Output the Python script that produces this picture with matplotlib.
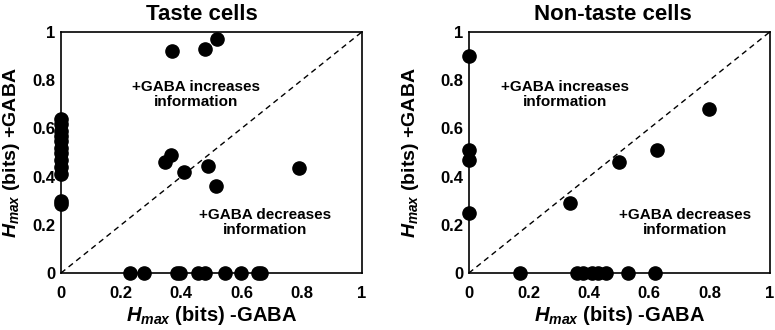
import matplotlib.pyplot as plt
import numpy as np

plt.rcParams['font.family'] = ['Liberation Sans', 'DejaVu Sans']
plt.rcParams['font.weight'] = 'bold'
plt.rcParams['axes.labelweight'] = 'bold'
plt.rcParams['mathtext.fontset'] = 'custom'
plt.rcParams['mathtext.rm'] = 'Liberation Sans:bold'
plt.rcParams['mathtext.it'] = 'Liberation Sans:italic:bold'
plt.rcParams['mathtext.bf'] = 'Liberation Sans:bold'

# taste cells
taste_x = [0.37, 0.48, 0.52, 0.345, 0.365, 0.41, 0.49, 0.515, 0.79,
           0, 0, 0, 0, 0, 0, 0, 0, 0, 0, 0, 0,
           0.23, 0.275, 0.385, 0.395, 0.455, 0.48, 0.545, 0.60, 0.655, 0.665]
taste_y = [0.92, 0.93, 0.97, 0.46, 0.49, 0.42, 0.445, 0.36, 0.435,
           0.64, 0.62, 0.59, 0.57, 0.55, 0.52, 0.50, 0.47, 0.44, 0.41, 0.30, 0.285,
           0, 0, 0, 0, 0, 0, 0, 0, 0, 0]

# non-taste cells
nontaste_x = [0, 0, 0, 0, 0.335, 0.50, 0.625, 0.80,
              0.17, 0.36, 0.38, 0.41, 0.43, 0.455, 0.53, 0.62]
nontaste_y = [0.90, 0.51, 0.47, 0.25, 0.29, 0.46, 0.51, 0.68,
              0, 0, 0, 0, 0, 0, 0, 0]

ticks = [0, 0.2, 0.4, 0.6, 0.8, 1]
tick_labels = ['0', '0.2', '0.4', '0.6', '0.8', '1']

fig = plt.figure(figsize=(7.75, 3.3), dpi=100)
ax1 = fig.add_axes([0.0787, 0.1727, 0.388, 0.730])
ax2 = fig.add_axes([0.605, 0.1727, 0.388, 0.730])

panels = [(ax1, taste_x, taste_y, 'Taste cells', (0.45, 0.74), (0.68, 0.21), -0.13, 0.47),
          (ax2, nontaste_x, nontaste_y, 'Non-taste cells', (0.32, 0.74), (0.72, 0.21), -0.16, 0.48)]

for ax, x, y, title, inc, dec, ylab_x, title_x in panels:
    ax.plot([0, 1], [0, 1], 'k--', lw=1, dashes=(4, 3))
    ax.plot(x, y, 'o', color='black', ms=9.5, clip_on=False, zorder=3)
    ax.set_xlim(0, 1)
    ax.set_ylim(0, 1)
    ax.set_xticks(ticks)
    ax.set_xticklabels(tick_labels, fontweight='bold', fontsize=12)
    ax.set_yticks(ticks)
    ax.set_yticklabels(tick_labels, fontweight='bold', fontsize=12)
    ax.tick_params(length=0)
    ax.tick_params(axis='x', pad=9)
    ax.tick_params(axis='y', pad=4)
    for s in ax.spines.values():
        s.set_linewidth(1.2)
    ax.set_title(title, fontsize=16, fontweight='bold', pad=9, x=title_x)
    ax.set_xlabel(r'$H_{max}$ (bits) -GABA', fontsize=14.5, fontweight='bold')
    ax.set_ylabel(r'$H_{max}$ (bits) +GABA', fontsize=14, fontweight='bold')
    ax.xaxis.set_label_coords(0.5, -0.13)
    ax.yaxis.set_label_coords(ylab_x, 0.5)
    ax.text(inc[0], inc[1], '+GABA increases\ninformation', ha='center', va='center',
            fontsize=11, fontweight='bold', linespacing=1.1)
    ax.text(dec[0], dec[1], '+GABA decreases\ninformation', ha='center', va='center',
            fontsize=11, fontweight='bold', linespacing=1.1)

fig.savefig('out.png', dpi=100)
